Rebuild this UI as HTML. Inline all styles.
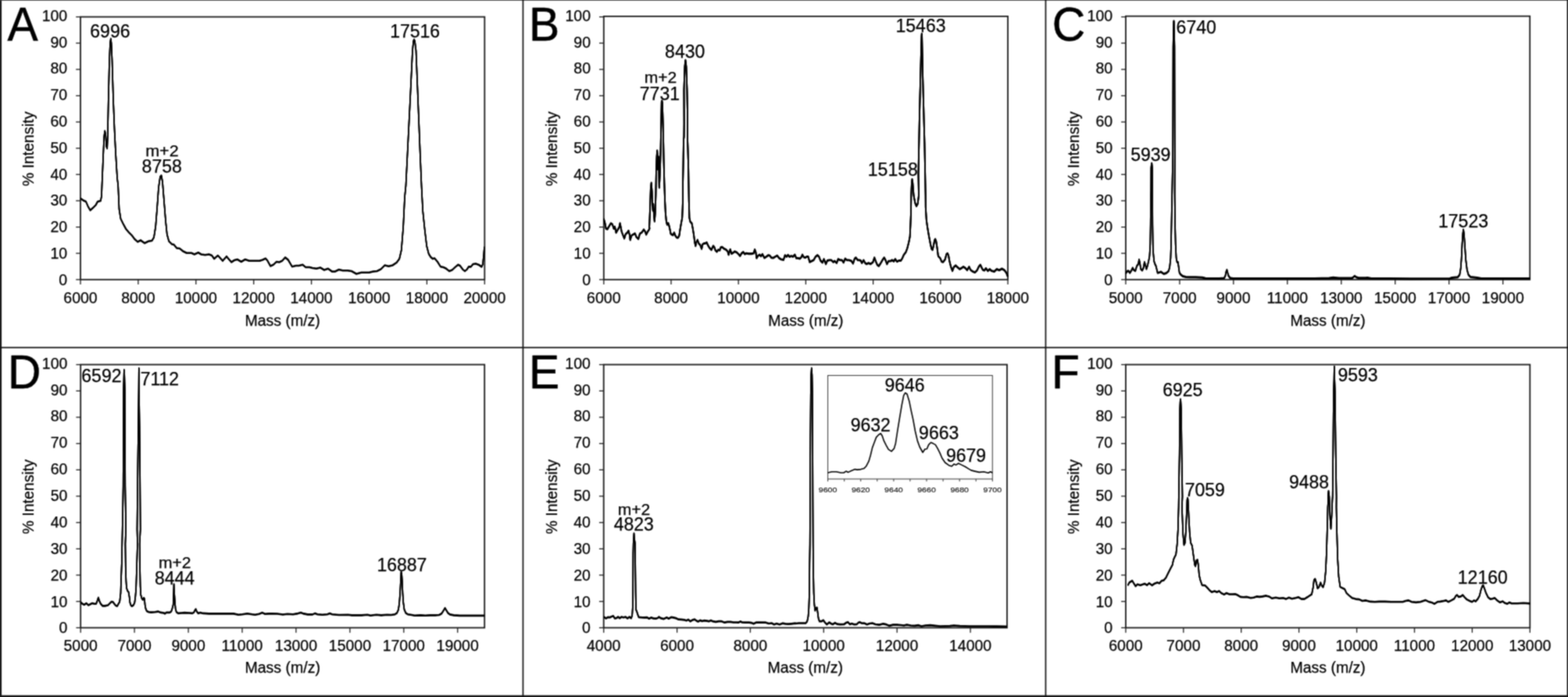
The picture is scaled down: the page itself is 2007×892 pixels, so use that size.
<!DOCTYPE html>
<html lang="en"><head><meta charset="utf-8"><title>Mass spectra</title>
<style>
html,body{margin:0;padding:0;background:#fff;}
body{width:2007px;height:892px;overflow:hidden;}
svg{display:block;font-family:"Liberation Sans",sans-serif;}
text{stroke:#000;stroke-width:0.25px;}
text.L{stroke-width:0.6px;stroke-linejoin:round;}

</style></head><body>
<svg width="2007" height="892" viewBox="0 0 2007 892">
<defs><filter id="soft" x="0" y="0" width="100%" height="100%" filterUnits="objectBoundingBox" color-interpolation-filters="sRGB"><feConvolveMatrix order="3" kernelMatrix="1 2 1 2 6 2 1 2 1" divisor="18" edgeMode="duplicate" preserveAlpha="true"/></filter></defs>
<g filter="url(#soft)">
<rect x="0" y="0" width="2007" height="892" fill="#fff"/>
<rect x="0" y="0" width="2.1" height="892" fill="#1a1a1a"/>
<rect x="0" y="0" width="2007" height="0.8" fill="#555"/>
<rect x="2005.6" y="0" width="1.4" height="892" fill="#1a1a1a"/>
<rect x="0" y="889.7" width="2007" height="2.3" fill="#1a1a1a"/>
<rect x="668.6" y="0" width="1.7" height="892" fill="#111"/>
<rect x="1337.6" y="0" width="1.7" height="892" fill="#111"/>
<rect x="0" y="443.9" width="2007" height="1.7" fill="#111"/>
<g id="panelA">
<rect x="103.0" y="21.6" width="517.3" height="336.2" fill="none" stroke="#1c1c1c" stroke-width="1.8"/>
<line x1="97.2" y1="357.8" x2="103.0" y2="357.8" stroke="#1c1c1c" stroke-width="1.3"/>
<text x="86.2" y="364.8" font-size="19.5" text-anchor="end" fill="#000" >0</text>
<line x1="97.2" y1="324.2" x2="103.0" y2="324.2" stroke="#1c1c1c" stroke-width="1.3"/>
<text x="86.2" y="331.0" font-size="19.5" text-anchor="end" fill="#000" >10</text>
<line x1="97.2" y1="290.6" x2="103.0" y2="290.6" stroke="#1c1c1c" stroke-width="1.3"/>
<text x="86.2" y="297.2" font-size="19.5" text-anchor="end" fill="#000" >20</text>
<line x1="97.2" y1="256.9" x2="103.0" y2="256.9" stroke="#1c1c1c" stroke-width="1.3"/>
<text x="86.2" y="263.4" font-size="19.5" text-anchor="end" fill="#000" >30</text>
<line x1="97.2" y1="223.3" x2="103.0" y2="223.3" stroke="#1c1c1c" stroke-width="1.3"/>
<text x="86.2" y="229.6" font-size="19.5" text-anchor="end" fill="#000" >40</text>
<line x1="97.2" y1="189.7" x2="103.0" y2="189.7" stroke="#1c1c1c" stroke-width="1.3"/>
<text x="86.2" y="195.8" font-size="19.5" text-anchor="end" fill="#000" >50</text>
<line x1="97.2" y1="156.1" x2="103.0" y2="156.1" stroke="#1c1c1c" stroke-width="1.3"/>
<text x="86.2" y="161.9" font-size="19.5" text-anchor="end" fill="#000" >60</text>
<line x1="97.2" y1="122.5" x2="103.0" y2="122.5" stroke="#1c1c1c" stroke-width="1.3"/>
<text x="86.2" y="128.1" font-size="19.5" text-anchor="end" fill="#000" >70</text>
<line x1="97.2" y1="88.8" x2="103.0" y2="88.8" stroke="#1c1c1c" stroke-width="1.3"/>
<text x="86.2" y="94.3" font-size="19.5" text-anchor="end" fill="#000" >80</text>
<line x1="97.2" y1="55.2" x2="103.0" y2="55.2" stroke="#1c1c1c" stroke-width="1.3"/>
<text x="86.2" y="60.5" font-size="19.5" text-anchor="end" fill="#000" >90</text>
<line x1="97.2" y1="21.6" x2="103.0" y2="21.6" stroke="#1c1c1c" stroke-width="1.3"/>
<text x="86.2" y="26.7" font-size="19.5" text-anchor="end" fill="#000" >100</text>
<line x1="103.0" y1="357.8" x2="103.0" y2="364.1" stroke="#1c1c1c" stroke-width="1.3"/>
<text x="103.0" y="388.2" font-size="19.5" text-anchor="middle" fill="#000" >6000</text>
<line x1="176.9" y1="357.8" x2="176.9" y2="364.1" stroke="#1c1c1c" stroke-width="1.3"/>
<text x="176.9" y="388.2" font-size="19.5" text-anchor="middle" fill="#000" >8000</text>
<line x1="250.8" y1="357.8" x2="250.8" y2="364.1" stroke="#1c1c1c" stroke-width="1.3"/>
<text x="250.8" y="388.2" font-size="19.5" text-anchor="middle" fill="#000" >10000</text>
<line x1="324.7" y1="357.8" x2="324.7" y2="364.1" stroke="#1c1c1c" stroke-width="1.3"/>
<text x="324.7" y="388.2" font-size="19.5" text-anchor="middle" fill="#000" >12000</text>
<line x1="398.6" y1="357.8" x2="398.6" y2="364.1" stroke="#1c1c1c" stroke-width="1.3"/>
<text x="398.6" y="388.2" font-size="19.5" text-anchor="middle" fill="#000" >14000</text>
<line x1="472.5" y1="357.8" x2="472.5" y2="364.1" stroke="#1c1c1c" stroke-width="1.3"/>
<text x="472.5" y="388.2" font-size="19.5" text-anchor="middle" fill="#000" >16000</text>
<line x1="546.4" y1="357.8" x2="546.4" y2="364.1" stroke="#1c1c1c" stroke-width="1.3"/>
<text x="546.4" y="388.2" font-size="19.5" text-anchor="middle" fill="#000" >18000</text>
<line x1="620.3" y1="357.8" x2="620.3" y2="364.1" stroke="#1c1c1c" stroke-width="1.3"/>
<text x="620.3" y="388.2" font-size="19.5" text-anchor="middle" fill="#000" >20000</text>
<text x="361.6" y="417.3" font-size="19.5" text-anchor="middle" fill="#000" >Mass (m/z)</text>
<text transform="translate(42.8,190.5) rotate(-90)" font-size="19.5" text-anchor="middle">% Intensity</text>
<path d="M103.0,253.8 L106.2,256.2 L110.0,258.0 L112.5,263.8 L115.5,269.2 L118.8,266.2 L122.5,262.5 L125.0,258.0 L128.8,257.0 L130.0,251.2 L130.5,237.5 L132.0,202.5 L133.2,175.0 L134.2,167.5 L135.2,172.5 L136.2,187.5 L137.2,190.0 L137.8,175.0 L138.8,127.5 L140.0,77.5 L141.0,55.0 L141.8,49.5 L142.5,55.0 L143.5,77.5 L145.0,127.5 L146.5,165.0 L148.0,195.0 L150.0,227.5 L151.2,237.5 L152.5,267.5 L154.5,280.0 L157.5,286.2 L161.2,293.0 L165.0,297.5 L168.8,301.2 L172.5,306.2 L176.2,309.5 L180.0,307.5 L185.0,311.2 L190.0,308.8 L194.5,308.0 L197.0,303.8 L199.2,290.0 L201.2,265.0 L203.0,240.0 L205.0,226.2 L206.5,224.5 L208.0,232.5 L210.0,257.5 L212.0,282.5 L213.8,300.0 L216.2,308.8 L220.0,312.5 L222.5,313.0 L226.2,317.5 L230.0,318.0 L233.8,321.2 L238.8,323.8 L245.0,323.8 L248.8,325.5 L253.8,323.2 L257.5,325.5 L262.5,326.2 L267.5,325.5 L271.2,327.0 L274.2,331.2 L278.8,327.0 L281.2,329.5 L285.0,333.8 L290.0,328.2 L292.5,331.2 L296.2,335.5 L300.0,333.0 L303.8,332.0 L308.8,335.0 L313.8,332.0 L318.8,333.8 L325.0,333.8 L332.5,333.8 L336.2,332.5 L340.0,330.8 L342.5,333.8 L346.2,340.5 L350.0,338.8 L353.8,335.0 L357.5,335.5 L361.2,333.8 L365.0,329.5 L368.8,332.5 L373.8,341.2 L378.8,340.0 L382.5,340.0 L387.5,338.8 L391.2,342.0 L396.2,342.0 L400.0,343.0 L405.0,343.8 L410.0,342.5 L415.0,345.5 L420.0,343.8 L425.0,347.5 L428.8,347.5 L433.8,345.0 L438.8,346.2 L445.0,346.2 L450.0,347.0 L456.2,350.5 L462.5,348.8 L467.5,348.8 L472.5,348.8 L477.5,347.5 L482.5,347.0 L487.5,344.5 L492.5,339.5 L497.5,340.8 L502.5,339.5 L507.5,336.2 L511.2,331.2 L513.8,320.0 L516.2,290.0 L518.0,252.5 L519.5,237.5 L522.5,177.5 L525.0,127.5 L528.0,65.0 L529.2,52.5 L530.0,50.5 L531.0,52.5 L532.5,65.0 L535.5,140.0 L538.0,202.5 L539.5,237.5 L541.2,270.0 L543.8,295.0 L546.2,315.0 L548.8,325.0 L551.2,328.8 L553.8,331.2 L556.2,330.5 L560.0,335.0 L563.8,341.2 L567.5,342.0 L571.2,343.8 L575.0,347.0 L578.8,345.5 L582.5,342.0 L586.2,338.8 L588.8,340.0 L592.5,345.0 L595.0,347.0 L597.5,345.0 L600.0,341.2 L602.6,341.5 L605.5,338.0 L609.0,337.5 L613.0,339.0 L616.5,341.5 L618.0,338.0 L619.3,325.0 L620.0,316.0" fill="none" stroke="#000" stroke-width="1.6" stroke-linejoin="round" stroke-linecap="butt" id="cA"/>
<use href="#cA" transform="translate(0,-0.50)"/>
<use href="#cA" transform="translate(0,0.50)"/>
<text x="140.9" y="47.5" font-size="23" text-anchor="middle" fill="#000" >6996</text>
<text x="531.2" y="47.8" font-size="23" text-anchor="middle" fill="#000" >17516</text>
<text x="186.2" y="199.9" font-size="19.5" text-anchor="start" fill="#000" textLength="42.5" lengthAdjust="spacingAndGlyphs">m+2</text>
<text x="207.2" y="221.0" font-size="23" text-anchor="middle" fill="#000" >8758</text>
<text class="L" transform="translate(9.6,51.5) scale(0.965,1)" font-size="60.8">A</text>
</g>
<g id="panelB">
<rect x="772.8" y="20.9" width="517.2" height="336.9" fill="none" stroke="#1c1c1c" stroke-width="1.8"/>
<line x1="767.0" y1="357.8" x2="772.8" y2="357.8" stroke="#1c1c1c" stroke-width="1.3"/>
<text x="756.0" y="364.8" font-size="19.5" text-anchor="end" fill="#000" >0</text>
<line x1="767.0" y1="324.2" x2="772.8" y2="324.2" stroke="#1c1c1c" stroke-width="1.3"/>
<text x="756.0" y="331.0" font-size="19.5" text-anchor="end" fill="#000" >10</text>
<line x1="767.0" y1="290.6" x2="772.8" y2="290.6" stroke="#1c1c1c" stroke-width="1.3"/>
<text x="756.0" y="297.2" font-size="19.5" text-anchor="end" fill="#000" >20</text>
<line x1="767.0" y1="256.9" x2="772.8" y2="256.9" stroke="#1c1c1c" stroke-width="1.3"/>
<text x="756.0" y="263.4" font-size="19.5" text-anchor="end" fill="#000" >30</text>
<line x1="767.0" y1="223.3" x2="772.8" y2="223.3" stroke="#1c1c1c" stroke-width="1.3"/>
<text x="756.0" y="229.6" font-size="19.5" text-anchor="end" fill="#000" >40</text>
<line x1="767.0" y1="189.7" x2="772.8" y2="189.7" stroke="#1c1c1c" stroke-width="1.3"/>
<text x="756.0" y="195.8" font-size="19.5" text-anchor="end" fill="#000" >50</text>
<line x1="767.0" y1="156.1" x2="772.8" y2="156.1" stroke="#1c1c1c" stroke-width="1.3"/>
<text x="756.0" y="161.9" font-size="19.5" text-anchor="end" fill="#000" >60</text>
<line x1="767.0" y1="122.5" x2="772.8" y2="122.5" stroke="#1c1c1c" stroke-width="1.3"/>
<text x="756.0" y="128.1" font-size="19.5" text-anchor="end" fill="#000" >70</text>
<line x1="767.0" y1="88.8" x2="772.8" y2="88.8" stroke="#1c1c1c" stroke-width="1.3"/>
<text x="756.0" y="94.3" font-size="19.5" text-anchor="end" fill="#000" >80</text>
<line x1="767.0" y1="55.2" x2="772.8" y2="55.2" stroke="#1c1c1c" stroke-width="1.3"/>
<text x="756.0" y="60.5" font-size="19.5" text-anchor="end" fill="#000" >90</text>
<line x1="767.0" y1="21.6" x2="772.8" y2="21.6" stroke="#1c1c1c" stroke-width="1.3"/>
<text x="756.0" y="26.7" font-size="19.5" text-anchor="end" fill="#000" >100</text>
<line x1="772.8" y1="357.8" x2="772.8" y2="364.1" stroke="#1c1c1c" stroke-width="1.3"/>
<text x="772.8" y="388.2" font-size="19.5" text-anchor="middle" fill="#000" >6000</text>
<line x1="859.0" y1="357.8" x2="859.0" y2="364.1" stroke="#1c1c1c" stroke-width="1.3"/>
<text x="859.0" y="388.2" font-size="19.5" text-anchor="middle" fill="#000" >8000</text>
<line x1="945.2" y1="357.8" x2="945.2" y2="364.1" stroke="#1c1c1c" stroke-width="1.3"/>
<text x="945.2" y="388.2" font-size="19.5" text-anchor="middle" fill="#000" >10000</text>
<line x1="1031.4" y1="357.8" x2="1031.4" y2="364.1" stroke="#1c1c1c" stroke-width="1.3"/>
<text x="1031.4" y="388.2" font-size="19.5" text-anchor="middle" fill="#000" >12000</text>
<line x1="1117.6" y1="357.8" x2="1117.6" y2="364.1" stroke="#1c1c1c" stroke-width="1.3"/>
<text x="1117.6" y="388.2" font-size="19.5" text-anchor="middle" fill="#000" >14000</text>
<line x1="1203.8" y1="357.8" x2="1203.8" y2="364.1" stroke="#1c1c1c" stroke-width="1.3"/>
<text x="1203.8" y="388.2" font-size="19.5" text-anchor="middle" fill="#000" >16000</text>
<line x1="1290.0" y1="357.8" x2="1290.0" y2="364.1" stroke="#1c1c1c" stroke-width="1.3"/>
<text x="1290.0" y="388.2" font-size="19.5" text-anchor="middle" fill="#000" >18000</text>
<text x="1031.4" y="417.3" font-size="19.5" text-anchor="middle" fill="#000" >Mass (m/z)</text>
<text transform="translate(712.6,190.5) rotate(-90)" font-size="19.5" text-anchor="middle">% Intensity</text>
<path d="M772.8,280.1 L774.4,285.8 L775.7,292.7 L777.5,293.3 L780.0,288.9 L781.9,285.8 L783.8,287.0 L785.7,292.7 L787.0,290.2 L788.6,297.7 L790.7,293.9 L792.4,291.4 L793.6,285.8 L794.5,290.2 L795.7,296.5 L797.6,301.5 L799.1,305.2 L800.8,299.6 L802.9,297.7 L804.5,295.2 L805.8,300.2 L806.7,307.1 L808.3,301.5 L810.2,300.2 L812.7,298.7 L814.6,303.4 L817.1,305.9 L819.0,299.0 L821.5,297.5 L824.0,293.7 L825.9,296.5 L827.1,300.2 L829.0,296.5 L830.9,293.7 L831.5,292.1 L831.1,291.5 L832.1,265.3 L832.9,241.1 L833.7,234.0 L834.5,245.1 L835.1,261.2 L835.7,269.3 L836.3,261.2 L836.9,273.3 L837.8,283.4 L838.6,273.3 L839.4,249.1 L840.0,216.9 L840.6,200.7 L841.2,192.6 L841.8,204.7 L842.2,216.9 L842.6,206.8 L843.0,200.7 L843.4,220.9 L843.8,240.1 L844.4,229.0 L845.0,214.8 L845.6,192.6 L846.2,160.4 L846.8,130.1 L847.3,128.9 L847.8,132.1 L848.7,160.4 L849.5,200.7 L850.3,233.0 L851.1,257.2 L851.9,273.3 L852.9,283.4 L853.9,287.5 L855.3,285.5 L856.3,288.5 L857.9,295.5 L858.5,299.0 L859.8,300.2 L861.4,300.9 L862.9,297.7 L864.4,301.5 L866.1,304.0 L867.9,304.2 L869.4,301.5 L870.5,293.9 L872.0,285.2 L873.2,278.9 L873.7,266.3 L874.1,253.8 L874.0,237.9 L874.5,212.8 L875.0,178.9 L875.5,175.1 L875.7,157.5 L875.5,115.3 L876.5,85.2 L877.4,77.0 L878.4,85.2 L879.4,115.3 L880.1,150.5 L879.9,175.1 L880.5,191.4 L881.1,212.8 L881.6,245.4 L881.8,257.5 L882.0,262.6 L882.4,278.9 L883.6,283.9 L885.5,285.8 L886.8,292.7 L888.0,300.2 L889.3,310.3 L890.3,314.7 L891.2,310.3 L892.8,307.1 L894.3,311.5 L896.2,313.4 L898.1,318.4 L899.3,312.8 L901.2,311.5 L903.1,311.3 L904.6,310.3 L906.2,314.0 L908.1,317.2 L910.6,319.7 L912.9,314.7 L914.4,316.5 L915.7,320.3 L917.5,322.2 L919.4,319.7 L921.3,320.3 L922.6,316.5 L924.4,316.3 L927.0,318.4 L929.5,319.7 L931.4,321.6 L932.6,326.0 L934.7,319.1 L936.4,324.7 L938.3,323.5 L940.5,321.8 L942.7,322.8 L945.2,325.1 L947.3,327.6 L949.3,324.1 L951.4,322.6 L953.3,325.3 L955.2,324.1 L958.3,324.7 L962.1,324.7 L964.6,324.1 L966.1,319.3 L967.4,322.8 L968.4,330.4 L970.3,327.2 L972.2,326.0 L974.0,327.9 L975.9,325.3 L978.4,330.1 L980.9,328.5 L983.5,326.6 L985.3,327.2 L987.2,329.7 L989.7,330.1 L992.3,328.5 L994.8,327.2 L997.3,330.4 L999.8,331.9 L1002.9,332.6 L1004.8,326.6 L1006.7,328.5 L1008.6,326.3 L1010.5,328.5 L1013.0,327.6 L1014.9,328.5 L1017.4,326.0 L1019.2,330.4 L1021.3,330.4 L1023.8,331.0 L1025.7,329.1 L1027.0,326.0 L1028.8,329.1 L1030.7,329.7 L1032.6,328.5 L1034.5,328.5 L1036.4,335.4 L1038.9,334.1 L1041.4,332.9 L1043.9,328.5 L1046.4,326.6 L1048.3,328.5 L1050.2,333.5 L1052.7,336.0 L1054.6,331.6 L1057.1,337.9 L1059.0,333.5 L1061.5,332.9 L1064.0,332.9 L1066.5,335.4 L1068.4,334.1 L1070.9,336.6 L1072.8,331.6 L1075.3,332.9 L1077.8,332.9 L1079.7,336.0 L1081.8,331.0 L1084.1,332.9 L1086.6,332.9 L1089.7,333.9 L1091.9,337.3 L1093.9,331.0 L1095.4,329.7 L1097.9,332.9 L1099.8,332.9 L1101.7,333.5 L1103.2,336.6 L1105.4,332.9 L1107.3,336.6 L1109.2,337.9 L1111.7,336.6 L1114.2,337.9 L1117.4,335.4 L1119.2,329.7 L1121.1,334.8 L1123.0,339.2 L1124.9,340.4 L1127.4,336.6 L1129.9,332.2 L1131.8,329.7 L1133.7,333.5 L1135.3,337.9 L1137.4,334.1 L1140.0,334.1 L1141.8,332.9 L1144.1,334.4 L1145.9,331.6 L1148.1,334.8 L1150.6,333.5 L1153.1,333.5 L1155.0,330.4 L1156.9,326.0 L1159.4,322.8 L1161.3,317.8 L1163.2,310.3 L1164.7,302.7 L1165.4,287.7 L1166.0,272.6 L1166.3,250.0 L1167.0,233.7 L1167.5,229.5 L1168.2,233.7 L1169.5,250.0 L1171.4,260.0 L1173.0,263.8 L1174.7,260.7 L1176.0,250.0 L1175.5,223.5 L1177.1,142.1 L1178.8,74.3 L1179.6,45.8 L1179.8,43.1 L1180.1,45.8 L1181.2,101.4 L1183.4,182.8 L1184.7,250.6 L1184.8,265.1 L1185.8,281.4 L1187.0,290.2 L1188.9,301.5 L1190.8,311.5 L1192.3,318.4 L1193.6,319.7 L1194.8,315.3 L1196.1,307.8 L1197.1,305.9 L1198.3,309.0 L1199.6,317.8 L1200.9,327.9 L1203.4,330.4 L1205.3,334.8 L1207.1,335.4 L1209.6,332.2 L1211.5,325.3 L1212.8,324.3 L1214.0,326.6 L1215.3,334.1 L1217.2,341.7 L1219.1,346.7 L1220.9,341.7 L1223.2,339.8 L1225.3,341.7 L1228.5,344.4 L1231.0,342.9 L1232.9,341.4 L1235.4,342.9 L1237.9,345.7 L1240.4,341.4 L1242.3,345.4 L1244.8,347.3 L1247.9,348.6 L1250.5,346.1 L1253.0,341.0 L1254.9,338.9 L1256.4,342.3 L1258.0,345.4 L1260.0,346.1 L1261.9,343.4 L1264.4,346.7 L1266.8,344.5 L1269.3,346.7 L1272.6,347.5 L1275.8,344.5 L1279.1,345.8 L1282.4,343.9 L1285.7,345.8 L1288.1,349.1 L1289.9,354.0" fill="none" stroke="#000" stroke-width="1.8" stroke-linejoin="round" stroke-linecap="butt" id="cB"/>
<use href="#cB" transform="translate(0,-0.55)"/>
<use href="#cB" transform="translate(0,0.55)"/>
<text x="876.7" y="74.1" font-size="23" text-anchor="middle" fill="#000" >8430</text>
<text x="824.7" y="106.4" font-size="19.5" text-anchor="start" fill="#000" textLength="41.6" lengthAdjust="spacingAndGlyphs">m+2</text>
<text x="844.4" y="128.4" font-size="23" text-anchor="middle" fill="#000" >7731</text>
<text x="1178.5" y="40.8" font-size="23" text-anchor="middle" fill="#000" >15463</text>
<text x="1142.8" y="224.5" font-size="23" text-anchor="middle" fill="#000" >15158</text>
<text class="L" transform="translate(676.9,51.5) scale(0.965,1)" font-size="60.8">B</text>
</g>
<g id="panelC">
<rect x="1440.9" y="20.7" width="517.3" height="337.1" fill="none" stroke="#1c1c1c" stroke-width="1.8"/>
<line x1="1435.1" y1="357.8" x2="1440.9" y2="357.8" stroke="#1c1c1c" stroke-width="1.3"/>
<text x="1424.1" y="364.8" font-size="19.5" text-anchor="end" fill="#000" >0</text>
<line x1="1435.1" y1="324.2" x2="1440.9" y2="324.2" stroke="#1c1c1c" stroke-width="1.3"/>
<text x="1424.1" y="331.0" font-size="19.5" text-anchor="end" fill="#000" >10</text>
<line x1="1435.1" y1="290.6" x2="1440.9" y2="290.6" stroke="#1c1c1c" stroke-width="1.3"/>
<text x="1424.1" y="297.2" font-size="19.5" text-anchor="end" fill="#000" >20</text>
<line x1="1435.1" y1="256.9" x2="1440.9" y2="256.9" stroke="#1c1c1c" stroke-width="1.3"/>
<text x="1424.1" y="263.4" font-size="19.5" text-anchor="end" fill="#000" >30</text>
<line x1="1435.1" y1="223.3" x2="1440.9" y2="223.3" stroke="#1c1c1c" stroke-width="1.3"/>
<text x="1424.1" y="229.6" font-size="19.5" text-anchor="end" fill="#000" >40</text>
<line x1="1435.1" y1="189.7" x2="1440.9" y2="189.7" stroke="#1c1c1c" stroke-width="1.3"/>
<text x="1424.1" y="195.8" font-size="19.5" text-anchor="end" fill="#000" >50</text>
<line x1="1435.1" y1="156.1" x2="1440.9" y2="156.1" stroke="#1c1c1c" stroke-width="1.3"/>
<text x="1424.1" y="161.9" font-size="19.5" text-anchor="end" fill="#000" >60</text>
<line x1="1435.1" y1="122.5" x2="1440.9" y2="122.5" stroke="#1c1c1c" stroke-width="1.3"/>
<text x="1424.1" y="128.1" font-size="19.5" text-anchor="end" fill="#000" >70</text>
<line x1="1435.1" y1="88.8" x2="1440.9" y2="88.8" stroke="#1c1c1c" stroke-width="1.3"/>
<text x="1424.1" y="94.3" font-size="19.5" text-anchor="end" fill="#000" >80</text>
<line x1="1435.1" y1="55.2" x2="1440.9" y2="55.2" stroke="#1c1c1c" stroke-width="1.3"/>
<text x="1424.1" y="60.5" font-size="19.5" text-anchor="end" fill="#000" >90</text>
<line x1="1435.1" y1="21.6" x2="1440.9" y2="21.6" stroke="#1c1c1c" stroke-width="1.3"/>
<text x="1424.1" y="26.7" font-size="19.5" text-anchor="end" fill="#000" >100</text>
<line x1="1440.9" y1="357.8" x2="1440.9" y2="364.1" stroke="#1c1c1c" stroke-width="1.3"/>
<text x="1440.9" y="388.2" font-size="19.5" text-anchor="middle" fill="#000" >5000</text>
<line x1="1509.9" y1="357.8" x2="1509.9" y2="364.1" stroke="#1c1c1c" stroke-width="1.3"/>
<text x="1509.9" y="388.2" font-size="19.5" text-anchor="middle" fill="#000" >7000</text>
<line x1="1578.8" y1="357.8" x2="1578.8" y2="364.1" stroke="#1c1c1c" stroke-width="1.3"/>
<text x="1578.8" y="388.2" font-size="19.5" text-anchor="middle" fill="#000" >9000</text>
<line x1="1647.8" y1="357.8" x2="1647.8" y2="364.1" stroke="#1c1c1c" stroke-width="1.3"/>
<text x="1647.8" y="388.2" font-size="19.5" text-anchor="middle" fill="#000" >11000</text>
<line x1="1716.8" y1="357.8" x2="1716.8" y2="364.1" stroke="#1c1c1c" stroke-width="1.3"/>
<text x="1716.8" y="388.2" font-size="19.5" text-anchor="middle" fill="#000" >13000</text>
<line x1="1785.8" y1="357.8" x2="1785.8" y2="364.1" stroke="#1c1c1c" stroke-width="1.3"/>
<text x="1785.8" y="388.2" font-size="19.5" text-anchor="middle" fill="#000" >15000</text>
<line x1="1854.7" y1="357.8" x2="1854.7" y2="364.1" stroke="#1c1c1c" stroke-width="1.3"/>
<text x="1854.7" y="388.2" font-size="19.5" text-anchor="middle" fill="#000" >17000</text>
<line x1="1923.7" y1="357.8" x2="1923.7" y2="364.1" stroke="#1c1c1c" stroke-width="1.3"/>
<text x="1923.7" y="388.2" font-size="19.5" text-anchor="middle" fill="#000" >19000</text>
<text x="1699.6" y="417.3" font-size="19.5" text-anchor="middle" fill="#000" >Mass (m/z)</text>
<text transform="translate(1380.7,190.5) rotate(-90)" font-size="19.5" text-anchor="middle">% Intensity</text>
<path d="M1441.0,349.8 L1442.5,347.3 L1444.4,346.7 L1446.3,349.2 L1448.2,346.1 L1449.8,342.9 L1451.1,345.4 L1453.2,346.7 L1455.1,340.4 L1457.0,337.9 L1458.0,332.2 L1459.1,336.6 L1460.1,344.2 L1462.0,346.1 L1463.6,342.9 L1464.9,335.4 L1466.1,339.2 L1467.4,344.2 L1468.7,340.4 L1470.2,334.1 L1471.4,327.9 L1472.3,312.8 L1472.7,287.7 L1473.0,250.0 L1473.2,245.0 L1473.4,215.0 L1474.0,209.0 L1474.3,209.0 L1474.9,215.0 L1475.1,245.0 L1475.1,250.0 L1475.3,287.7 L1475.8,319.1 L1477.1,334.1 L1478.3,337.9 L1479.6,340.4 L1480.8,345.4 L1481.7,349.2 L1484.0,348.6 L1485.9,347.9 L1487.7,349.2 L1489.6,350.5 L1492.1,349.8 L1494.0,348.6 L1495.9,346.7 L1497.2,341.7 L1498.4,330.4 L1499.0,312.8 L1499.7,275.1 L1500.2,250.0 L1501.2,200.0 L1501.6,60.0 L1502.3,27.0 L1502.7,27.0 L1503.4,60.0 L1503.7,200.0 L1503.6,250.0 L1504.1,287.7 L1504.7,312.8 L1505.6,330.4 L1506.6,335.4 L1507.8,335.4 L1508.8,342.9 L1509.7,349.2 L1511.6,351.7 L1514.1,353.6 L1517.9,354.5 L1522.9,354.8 L1530.4,354.8 L1539.2,355.2 L1543.0,356.2 L1560.6,356.4 L1566.8,356.1 L1568.4,353.0 L1569.4,347.9 L1570.4,345.4 L1571.4,349.2 L1572.5,353.0 L1574.4,355.7 L1578.1,356.4 L1598.2,356.5 L1635.9,356.5 L1679.9,356.5 L1682.5,356.5 L1701.3,356.1 L1706.4,355.2 L1713.9,356.1 L1730.2,356.1 L1732.1,354.8 L1734.0,353.2 L1735.9,354.8 L1739.0,355.7 L1747.8,355.7 L1750.3,355.5 L1755.3,356.5 L1805.6,356.7 L1855.8,356.5 L1858.3,355.5 L1865.8,354.8 L1868.3,351.7 L1869.6,344.2 L1870.6,331.6 L1871.5,312.8 L1872.4,299.0 L1873.1,293.9 L1873.9,299.0 L1874.9,312.8 L1876.1,331.6 L1877.8,345.4 L1879.6,351.7 L1882.2,354.5 L1890.9,355.5 L1896.0,356.5 L1930.0,356.6 L1958.2,356.6" fill="none" stroke="#000" stroke-width="1.6" stroke-linejoin="round" stroke-linecap="butt" id="cC"/>
<use href="#cC" transform="translate(0,-0.70)"/>
<use href="#cC" transform="translate(0,0.70)"/>
<text x="1531.2" y="43.2" font-size="23" text-anchor="middle" fill="#000" >6740</text>
<text x="1472.8" y="206.0" font-size="23" text-anchor="middle" fill="#000" >5939</text>
<text x="1873.0" y="290.7" font-size="23" text-anchor="middle" fill="#000" >17523</text>
<text class="L" transform="translate(1346.7,51.5) scale(0.965,1)" font-size="60.8">C</text>
</g>
<g id="panelD">
<rect x="103.2" y="466.6" width="517.0" height="336.8" fill="none" stroke="#1c1c1c" stroke-width="1.8"/>
<line x1="97.4" y1="803.4" x2="103.2" y2="803.4" stroke="#1c1c1c" stroke-width="1.3"/>
<text x="86.4" y="810.4" font-size="19.5" text-anchor="end" fill="#000" >0</text>
<line x1="97.4" y1="769.7" x2="103.2" y2="769.7" stroke="#1c1c1c" stroke-width="1.3"/>
<text x="86.4" y="776.5" font-size="19.5" text-anchor="end" fill="#000" >10</text>
<line x1="97.4" y1="736.0" x2="103.2" y2="736.0" stroke="#1c1c1c" stroke-width="1.3"/>
<text x="86.4" y="742.7" font-size="19.5" text-anchor="end" fill="#000" >20</text>
<line x1="97.4" y1="702.4" x2="103.2" y2="702.4" stroke="#1c1c1c" stroke-width="1.3"/>
<text x="86.4" y="708.8" font-size="19.5" text-anchor="end" fill="#000" >30</text>
<line x1="97.4" y1="668.7" x2="103.2" y2="668.7" stroke="#1c1c1c" stroke-width="1.3"/>
<text x="86.4" y="674.9" font-size="19.5" text-anchor="end" fill="#000" >40</text>
<line x1="97.4" y1="635.0" x2="103.2" y2="635.0" stroke="#1c1c1c" stroke-width="1.3"/>
<text x="86.4" y="641.0" font-size="19.5" text-anchor="end" fill="#000" >50</text>
<line x1="97.4" y1="601.3" x2="103.2" y2="601.3" stroke="#1c1c1c" stroke-width="1.3"/>
<text x="86.4" y="607.2" font-size="19.5" text-anchor="end" fill="#000" >60</text>
<line x1="97.4" y1="567.6" x2="103.2" y2="567.6" stroke="#1c1c1c" stroke-width="1.3"/>
<text x="86.4" y="573.3" font-size="19.5" text-anchor="end" fill="#000" >70</text>
<line x1="97.4" y1="534.0" x2="103.2" y2="534.0" stroke="#1c1c1c" stroke-width="1.3"/>
<text x="86.4" y="539.4" font-size="19.5" text-anchor="end" fill="#000" >80</text>
<line x1="97.4" y1="500.3" x2="103.2" y2="500.3" stroke="#1c1c1c" stroke-width="1.3"/>
<text x="86.4" y="505.6" font-size="19.5" text-anchor="end" fill="#000" >90</text>
<line x1="97.4" y1="466.6" x2="103.2" y2="466.6" stroke="#1c1c1c" stroke-width="1.3"/>
<text x="86.4" y="471.7" font-size="19.5" text-anchor="end" fill="#000" >100</text>
<line x1="103.2" y1="803.4" x2="103.2" y2="809.7" stroke="#1c1c1c" stroke-width="1.3"/>
<text x="103.2" y="832.7" font-size="19.5" text-anchor="middle" fill="#000" >5000</text>
<line x1="172.1" y1="803.4" x2="172.1" y2="809.7" stroke="#1c1c1c" stroke-width="1.3"/>
<text x="172.1" y="832.7" font-size="19.5" text-anchor="middle" fill="#000" >7000</text>
<line x1="241.1" y1="803.4" x2="241.1" y2="809.7" stroke="#1c1c1c" stroke-width="1.3"/>
<text x="241.1" y="832.7" font-size="19.5" text-anchor="middle" fill="#000" >9000</text>
<line x1="310.0" y1="803.4" x2="310.0" y2="809.7" stroke="#1c1c1c" stroke-width="1.3"/>
<text x="310.0" y="832.7" font-size="19.5" text-anchor="middle" fill="#000" >11000</text>
<line x1="378.9" y1="803.4" x2="378.9" y2="809.7" stroke="#1c1c1c" stroke-width="1.3"/>
<text x="378.9" y="832.7" font-size="19.5" text-anchor="middle" fill="#000" >13000</text>
<line x1="447.9" y1="803.4" x2="447.9" y2="809.7" stroke="#1c1c1c" stroke-width="1.3"/>
<text x="447.9" y="832.7" font-size="19.5" text-anchor="middle" fill="#000" >15000</text>
<line x1="516.8" y1="803.4" x2="516.8" y2="809.7" stroke="#1c1c1c" stroke-width="1.3"/>
<text x="516.8" y="832.7" font-size="19.5" text-anchor="middle" fill="#000" >17000</text>
<line x1="585.7" y1="803.4" x2="585.7" y2="809.7" stroke="#1c1c1c" stroke-width="1.3"/>
<text x="585.7" y="832.7" font-size="19.5" text-anchor="middle" fill="#000" >19000</text>
<text x="361.7" y="861.4" font-size="19.5" text-anchor="middle" fill="#000" >Mass (m/z)</text>
<text transform="translate(43.0,635.8) rotate(-90)" font-size="19.5" text-anchor="middle">% Intensity</text>
<path d="M103.3,770.7 L105.5,772.8 L108.0,773.9 L110.6,772.0 L113.1,774.5 L115.6,773.2 L118.1,772.0 L120.6,772.8 L123.1,772.6 L124.6,768.8 L125.9,764.8 L127.1,768.8 L128.8,772.6 L131.3,775.4 L134.4,775.4 L138.2,774.5 L140.7,772.0 L142.6,770.1 L144.5,770.3 L146.3,772.8 L148.2,775.1 L150.1,775.7 L151.4,773.2 L153.2,770.1 L154.5,758.8 L155.1,739.9 L155.8,721.1 L156.3,696.0 L156.7,677.5 L157.7,622.2 L158.2,497.5 L158.8,475.4 L158.9,473.2 L159.1,475.4 L159.8,497.5 L160.3,622.2 L161.1,677.5 L160.4,696.0 L160.8,727.4 L161.4,743.7 L162.0,752.5 L163.3,756.3 L164.5,757.5 L165.6,763.8 L166.4,771.3 L167.7,775.1 L168.9,775.7 L170.8,774.5 L172.3,771.3 L173.3,763.8 L174.2,752.5 L174.8,733.7 L175.6,708.6 L176.0,696.0 L175.5,677.5 L176.4,594.5 L177.1,544.6 L177.6,497.5 L177.8,471.2 L177.9,497.5 L178.6,544.6 L179.1,594.5 L179.7,677.5 L178.7,696.0 L179.0,721.1 L179.6,750.0 L180.2,761.3 L181.5,765.7 L182.8,767.6 L184.0,765.1 L184.9,766.3 L185.6,773.9 L186.5,778.9 L187.8,782.0 L190.3,783.3 L193.4,783.6 L198.5,783.3 L202.2,782.6 L206.0,783.9 L209.8,784.5 L211.0,785.4 L212.9,783.9 L217.3,783.9 L219.2,782.6 L220.4,778.9 L221.7,773.9 L222.3,758.8 L222.6,747.5 L223.1,758.8 L223.8,768.8 L224.6,778.9 L225.8,783.3 L228.0,784.9 L232.4,784.5 L236.1,784.1 L242.4,784.5 L246.2,784.9 L248.1,783.9 L249.3,781.4 L250.6,779.5 L251.8,782.6 L253.7,784.9 L256.2,783.9 L260.0,784.9 L267.5,785.4 L280.1,785.4 L292.6,785.4 L298.9,785.4 L305.2,786.7 L310.2,786.2 L316.5,785.2 L322.8,786.2 L326.5,786.7 L331.6,785.8 L335.9,784.1 L339.1,785.8 L344.1,785.4 L348.0,785.2 L355.0,785.5 L362.0,786.5 L368.0,785.8 L375.0,786.2 L380.0,785.4 L385.0,783.9 L388.8,785.4 L393.8,786.4 L400.1,786.4 L403.3,784.9 L406.4,786.2 L412.7,786.7 L418.9,786.2 L422.1,784.9 L425.2,786.2 L434.0,787.0 L445.3,786.7 L450.3,787.4 L462.9,787.4 L470.4,786.7 L474.2,787.7 L481.7,786.7 L488.0,787.4 L495.5,786.7 L500.6,787.0 L505.6,786.2 L508.1,784.5 L510.0,780.1 L511.2,771.3 L512.1,758.8 L512.9,743.7 L513.5,731.8 L514.1,733.7 L514.8,743.7 L515.4,758.8 L516.3,771.3 L517.5,780.1 L519.4,784.5 L521.9,786.2 L525.7,786.7 L530.7,787.7 L538.2,787.4 L544.5,787.7 L550.8,787.4 L557.1,787.4 L562.1,787.0 L565.2,785.2 L567.7,781.4 L569.6,778.2 L571.5,781.4 L573.4,784.5 L575.9,786.4 L580.9,787.4 L588.5,787.9 L601.0,787.9 L620.1,787.9" fill="none" stroke="#000" stroke-width="1.6" stroke-linejoin="round" stroke-linecap="butt" id="cD"/>
<use href="#cD" transform="translate(0,-0.50)"/>
<use href="#cD" transform="translate(0,0.50)"/>
<text x="129.9" y="489.2" font-size="23" text-anchor="middle" fill="#000" >6592</text>
<text x="204.4" y="493.1" font-size="23" text-anchor="middle" fill="#000" >7112</text>
<text x="202.9" y="727.3" font-size="19.5" text-anchor="start" fill="#000" textLength="41.6" lengthAdjust="spacingAndGlyphs">m+2</text>
<text x="223.6" y="747.7" font-size="23" text-anchor="middle" fill="#000" >8444</text>
<text x="514.4" y="731.0" font-size="23" text-anchor="middle" fill="#000" >16887</text>
<text class="L" transform="translate(9.9,497.0) scale(0.965,1)" font-size="60.8">D</text>
</g>
<g id="panelE">
<rect x="772.7" y="466.6" width="516.3" height="336.8" fill="none" stroke="#1c1c1c" stroke-width="1.8"/>
<line x1="766.9" y1="803.4" x2="772.7" y2="803.4" stroke="#1c1c1c" stroke-width="1.3"/>
<text x="755.9" y="810.4" font-size="19.5" text-anchor="end" fill="#000" >0</text>
<line x1="766.9" y1="769.7" x2="772.7" y2="769.7" stroke="#1c1c1c" stroke-width="1.3"/>
<text x="755.9" y="776.5" font-size="19.5" text-anchor="end" fill="#000" >10</text>
<line x1="766.9" y1="736.0" x2="772.7" y2="736.0" stroke="#1c1c1c" stroke-width="1.3"/>
<text x="755.9" y="742.7" font-size="19.5" text-anchor="end" fill="#000" >20</text>
<line x1="766.9" y1="702.4" x2="772.7" y2="702.4" stroke="#1c1c1c" stroke-width="1.3"/>
<text x="755.9" y="708.8" font-size="19.5" text-anchor="end" fill="#000" >30</text>
<line x1="766.9" y1="668.7" x2="772.7" y2="668.7" stroke="#1c1c1c" stroke-width="1.3"/>
<text x="755.9" y="674.9" font-size="19.5" text-anchor="end" fill="#000" >40</text>
<line x1="766.9" y1="635.0" x2="772.7" y2="635.0" stroke="#1c1c1c" stroke-width="1.3"/>
<text x="755.9" y="641.0" font-size="19.5" text-anchor="end" fill="#000" >50</text>
<line x1="766.9" y1="601.3" x2="772.7" y2="601.3" stroke="#1c1c1c" stroke-width="1.3"/>
<text x="755.9" y="607.2" font-size="19.5" text-anchor="end" fill="#000" >60</text>
<line x1="766.9" y1="567.6" x2="772.7" y2="567.6" stroke="#1c1c1c" stroke-width="1.3"/>
<text x="755.9" y="573.3" font-size="19.5" text-anchor="end" fill="#000" >70</text>
<line x1="766.9" y1="534.0" x2="772.7" y2="534.0" stroke="#1c1c1c" stroke-width="1.3"/>
<text x="755.9" y="539.4" font-size="19.5" text-anchor="end" fill="#000" >80</text>
<line x1="766.9" y1="500.3" x2="772.7" y2="500.3" stroke="#1c1c1c" stroke-width="1.3"/>
<text x="755.9" y="505.6" font-size="19.5" text-anchor="end" fill="#000" >90</text>
<line x1="766.9" y1="466.6" x2="772.7" y2="466.6" stroke="#1c1c1c" stroke-width="1.3"/>
<text x="755.9" y="471.7" font-size="19.5" text-anchor="end" fill="#000" >100</text>
<line x1="772.7" y1="803.4" x2="772.7" y2="809.7" stroke="#1c1c1c" stroke-width="1.3"/>
<text x="772.7" y="832.7" font-size="19.5" text-anchor="middle" fill="#000" >4000</text>
<line x1="866.6" y1="803.4" x2="866.6" y2="809.7" stroke="#1c1c1c" stroke-width="1.3"/>
<text x="866.6" y="832.7" font-size="19.5" text-anchor="middle" fill="#000" >6000</text>
<line x1="960.4" y1="803.4" x2="960.4" y2="809.7" stroke="#1c1c1c" stroke-width="1.3"/>
<text x="960.4" y="832.7" font-size="19.5" text-anchor="middle" fill="#000" >8000</text>
<line x1="1054.3" y1="803.4" x2="1054.3" y2="809.7" stroke="#1c1c1c" stroke-width="1.3"/>
<text x="1054.3" y="832.7" font-size="19.5" text-anchor="middle" fill="#000" >10000</text>
<line x1="1148.2" y1="803.4" x2="1148.2" y2="809.7" stroke="#1c1c1c" stroke-width="1.3"/>
<text x="1148.2" y="832.7" font-size="19.5" text-anchor="middle" fill="#000" >12000</text>
<line x1="1242.1" y1="803.4" x2="1242.1" y2="809.7" stroke="#1c1c1c" stroke-width="1.3"/>
<text x="1242.1" y="832.7" font-size="19.5" text-anchor="middle" fill="#000" >14000</text>
<text x="1030.8" y="861.4" font-size="19.5" text-anchor="middle" fill="#000" >Mass (m/z)</text>
<text transform="translate(712.5,635.8) rotate(-90)" font-size="19.5" text-anchor="middle">% Intensity</text>
<path d="M773.0,789.5 L775.5,791.4 L778.0,789.9 L780.6,790.2 L782.4,789.2 L785.0,788.3 L786.8,791.4 L789.3,790.8 L791.2,789.5 L793.1,791.2 L795.6,789.5 L798.1,790.2 L800.6,789.5 L803.2,791.4 L805.7,789.5 L807.9,791.2 L809.2,787.7 L809.8,777.6 L810.2,746.2 L810.4,708.6 L810.7,696.0 L811.0,690.0 L811.5,682.5 L812.0,690.0 L813.0,696.0 L813.2,721.1 L813.6,758.8 L814.0,780.1 L815.1,782.6 L816.3,786.4 L817.6,789.9 L820.7,790.2 L824.5,790.4 L828.3,790.2 L830.8,791.7 L833.3,790.4 L836.4,791.4 L839.6,791.7 L842.1,790.8 L843.3,789.5 L845.9,791.2 L849.6,792.1 L853.4,790.2 L855.9,791.7 L859.0,789.9 L862.2,790.4 L865.9,791.4 L868.5,792.7 L872.2,792.9 L876.0,793.3 L878.5,794.2 L881.0,792.9 L883.5,795.2 L886.7,793.3 L889.2,792.7 L891.7,794.6 L893.6,795.4 L896.1,793.9 L898.6,794.9 L901.1,794.2 L904.9,794.6 L907.4,795.2 L909.9,793.9 L912.4,795.2 L916.2,795.8 L919.9,795.2 L923.7,795.2 L927.5,796.7 L931.2,795.8 L935.0,795.8 L938.8,796.5 L942.5,796.5 L945.0,796.7 L947.6,795.4 L950.1,796.5 L953.8,796.7 L958.9,796.7 L962.0,797.1 L964.5,798.3 L967.6,796.7 L971.4,796.5 L976.4,796.7 L980.2,796.7 L984.0,798.0 L987.7,797.5 L990.9,799.2 L994.0,798.0 L997.8,799.2 L1001.6,797.7 L1005.3,798.3 L1009.1,798.7 L1012.9,798.3 L1018.0,797.7 L1018.0,798.0 L1022.5,797.5 L1027.6,797.5 L1031.3,797.5 L1033.2,795.2 L1034.5,788.9 L1035.3,778.9 L1036.0,758.8 L1036.3,721.1 L1036.7,696.0 L1037.0,640.0 L1037.3,560.0 L1037.8,500.0 L1038.2,480.0 L1038.8,471.2 L1039.4,480.0 L1039.8,500.0 L1040.1,560.0 L1040.4,640.0 L1040.7,696.0 L1041.1,733.7 L1041.6,758.8 L1042.4,773.9 L1043.3,781.4 L1044.5,778.2 L1045.8,777.6 L1046.6,783.9 L1047.6,791.4 L1048.9,795.2 L1051.4,795.2 L1053.9,793.7 L1055.8,796.5 L1058.3,799.2 L1061.5,796.5 L1064.0,798.3 L1065.9,799.0 L1069.0,797.1 L1071.5,798.7 L1075.3,799.2 L1080.3,799.0 L1083.4,796.7 L1085.3,796.2 L1087.8,799.0 L1090.3,798.0 L1093.5,799.2 L1096.6,799.0 L1098.9,796.7 L1100.4,796.2 L1102.9,797.5 L1106.7,797.7 L1109.8,799.2 L1112.9,798.0 L1116.7,797.5 L1120.5,799.0 L1125.5,799.6 L1130.5,798.3 L1134.3,799.2 L1138.1,800.8 L1143.1,799.6 L1148.1,799.6 L1153.1,800.0 L1156.9,800.5 L1160.7,799.6 L1165.7,800.5 L1170.7,800.8 L1175.7,800.2 L1179.5,801.5 L1184.5,800.5 L1190.8,800.2 L1197.1,800.8 L1203.3,801.5 L1215.9,801.2 L1220.9,800.5 L1228.5,801.2 L1241.0,801.5 L1253.6,801.5 L1265.0,801.5 L1275.0,801.6 L1288.8,801.8" fill="none" stroke="#000" stroke-width="1.6" stroke-linejoin="round" stroke-linecap="butt" id="cE"/>
<use href="#cE" transform="translate(0,-0.55)"/>
<use href="#cE" transform="translate(0,0.55)"/>
<text x="790.8" y="658.7" font-size="19.5" text-anchor="start" fill="#000" textLength="41.5" lengthAdjust="spacingAndGlyphs">m+2</text>
<text x="811.3" y="679.4" font-size="23" text-anchor="middle" fill="#000" >4823</text>
<text class="L" transform="translate(677.1,497.0) scale(0.965,1)" font-size="60.8">E</text>
<rect x="1059.6" y="480.5" width="210.7" height="132.5" fill="#fff" stroke="#333" stroke-width="1"/>
<line x1="1059.6" y1="613.0" x2="1059.6" y2="616.2" stroke="#333" stroke-width="1"/>
<line x1="1080.7" y1="613.0" x2="1080.7" y2="616.2" stroke="#333" stroke-width="1"/>
<line x1="1101.7" y1="613.0" x2="1101.7" y2="616.2" stroke="#333" stroke-width="1"/>
<line x1="1122.8" y1="613.0" x2="1122.8" y2="616.2" stroke="#333" stroke-width="1"/>
<line x1="1143.9" y1="613.0" x2="1143.9" y2="616.2" stroke="#333" stroke-width="1"/>
<line x1="1164.9" y1="613.0" x2="1164.9" y2="616.2" stroke="#333" stroke-width="1"/>
<line x1="1186.0" y1="613.0" x2="1186.0" y2="616.2" stroke="#333" stroke-width="1"/>
<line x1="1207.1" y1="613.0" x2="1207.1" y2="616.2" stroke="#333" stroke-width="1"/>
<line x1="1228.2" y1="613.0" x2="1228.2" y2="616.2" stroke="#333" stroke-width="1"/>
<line x1="1249.2" y1="613.0" x2="1249.2" y2="616.2" stroke="#333" stroke-width="1"/>
<line x1="1270.3" y1="613.0" x2="1270.3" y2="616.2" stroke="#333" stroke-width="1"/>
<text x="1047.8" y="630.1" font-size="9.6" text-anchor="start" fill="#111" textLength="23.6" lengthAdjust="spacingAndGlyphs" style="stroke-width:0.15px">9600</text>
<text x="1089.9" y="630.1" font-size="9.6" text-anchor="start" fill="#111" textLength="23.6" lengthAdjust="spacingAndGlyphs" style="stroke-width:0.15px">9620</text>
<text x="1132.1" y="630.1" font-size="9.6" text-anchor="start" fill="#111" textLength="23.6" lengthAdjust="spacingAndGlyphs" style="stroke-width:0.15px">9640</text>
<text x="1174.2" y="630.1" font-size="9.6" text-anchor="start" fill="#111" textLength="23.6" lengthAdjust="spacingAndGlyphs" style="stroke-width:0.15px">9660</text>
<text x="1216.4" y="630.1" font-size="9.6" text-anchor="start" fill="#111" textLength="23.6" lengthAdjust="spacingAndGlyphs" style="stroke-width:0.15px">9680</text>
<text x="1258.5" y="630.1" font-size="9.6" text-anchor="start" fill="#111" textLength="23.6" lengthAdjust="spacingAndGlyphs" style="stroke-width:0.15px">9700</text>
<path d="M1059.6,605.0 L1064.8,603.8 L1070.5,603.8 L1076.2,605.0 L1080.0,605.0 L1082.9,603.1 L1085.7,604.4 L1089.6,602.5 L1094.3,600.6 L1097.2,601.1 L1102.0,600.6 L1105.8,599.6 L1108.6,596.8 L1112.1,590.1 L1114.3,582.5 L1116.6,572.9 L1119.1,566.3 L1121.6,559.6 L1124.8,556.2 L1127.3,554.8 L1129.2,557.7 L1131.5,564.4 L1134.4,570.1 L1137.2,575.2 L1141.0,577.7 L1144.5,573.9 L1146.4,567.2 L1148.7,552.0 L1151.5,534.8 L1154.4,517.7 L1156.7,506.2 L1158.6,502.8 L1161.0,504.3 L1163.9,513.8 L1166.2,525.3 L1168.7,536.7 L1171.5,552.0 L1174.4,564.4 L1177.2,572.0 L1181.1,579.0 L1183.9,574.8 L1186.4,574.5 L1188.7,569.1 L1191.5,566.3 L1194.4,567.6 L1197.3,569.1 L1200.1,573.9 L1203.0,579.6 L1205.8,586.3 L1209.7,592.0 L1214.4,595.4 L1218.2,596.8 L1221.1,593.9 L1223.9,594.9 L1226.8,593.0 L1230.6,594.9 L1235.4,597.3 L1239.2,599.6 L1243.0,601.9 L1247.8,603.1 L1253.5,604.4 L1259.2,603.8 L1264.9,605.3 L1267.8,603.8 L1270.3,605.0" fill="none" stroke="#000" stroke-width="1.6" stroke-linejoin="round" stroke-linecap="butt" />
<text x="1158.1" y="500.5" font-size="23" text-anchor="middle" fill="#000" >9646</text>
<text x="1114.3" y="552.0" font-size="23" text-anchor="middle" fill="#000" >9632</text>
<text x="1201.7" y="561.5" font-size="23" text-anchor="middle" fill="#000" >9663</text>
<text x="1236.5" y="591.0" font-size="23" text-anchor="middle" fill="#000" >9679</text>
</g>
<g id="panelF">
<rect x="1440.9" y="466.6" width="517.4" height="336.8" fill="none" stroke="#1c1c1c" stroke-width="1.8"/>
<line x1="1435.1" y1="803.4" x2="1440.9" y2="803.4" stroke="#1c1c1c" stroke-width="1.3"/>
<text x="1424.1" y="810.4" font-size="19.5" text-anchor="end" fill="#000" >0</text>
<line x1="1435.1" y1="769.7" x2="1440.9" y2="769.7" stroke="#1c1c1c" stroke-width="1.3"/>
<text x="1424.1" y="776.5" font-size="19.5" text-anchor="end" fill="#000" >10</text>
<line x1="1435.1" y1="736.0" x2="1440.9" y2="736.0" stroke="#1c1c1c" stroke-width="1.3"/>
<text x="1424.1" y="742.7" font-size="19.5" text-anchor="end" fill="#000" >20</text>
<line x1="1435.1" y1="702.4" x2="1440.9" y2="702.4" stroke="#1c1c1c" stroke-width="1.3"/>
<text x="1424.1" y="708.8" font-size="19.5" text-anchor="end" fill="#000" >30</text>
<line x1="1435.1" y1="668.7" x2="1440.9" y2="668.7" stroke="#1c1c1c" stroke-width="1.3"/>
<text x="1424.1" y="674.9" font-size="19.5" text-anchor="end" fill="#000" >40</text>
<line x1="1435.1" y1="635.0" x2="1440.9" y2="635.0" stroke="#1c1c1c" stroke-width="1.3"/>
<text x="1424.1" y="641.0" font-size="19.5" text-anchor="end" fill="#000" >50</text>
<line x1="1435.1" y1="601.3" x2="1440.9" y2="601.3" stroke="#1c1c1c" stroke-width="1.3"/>
<text x="1424.1" y="607.2" font-size="19.5" text-anchor="end" fill="#000" >60</text>
<line x1="1435.1" y1="567.6" x2="1440.9" y2="567.6" stroke="#1c1c1c" stroke-width="1.3"/>
<text x="1424.1" y="573.3" font-size="19.5" text-anchor="end" fill="#000" >70</text>
<line x1="1435.1" y1="534.0" x2="1440.9" y2="534.0" stroke="#1c1c1c" stroke-width="1.3"/>
<text x="1424.1" y="539.4" font-size="19.5" text-anchor="end" fill="#000" >80</text>
<line x1="1435.1" y1="500.3" x2="1440.9" y2="500.3" stroke="#1c1c1c" stroke-width="1.3"/>
<text x="1424.1" y="505.6" font-size="19.5" text-anchor="end" fill="#000" >90</text>
<line x1="1435.1" y1="466.6" x2="1440.9" y2="466.6" stroke="#1c1c1c" stroke-width="1.3"/>
<text x="1424.1" y="471.7" font-size="19.5" text-anchor="end" fill="#000" >100</text>
<line x1="1440.9" y1="803.4" x2="1440.9" y2="809.7" stroke="#1c1c1c" stroke-width="1.3"/>
<text x="1440.9" y="832.7" font-size="19.5" text-anchor="middle" fill="#000" >6000</text>
<line x1="1514.8" y1="803.4" x2="1514.8" y2="809.7" stroke="#1c1c1c" stroke-width="1.3"/>
<text x="1514.8" y="832.7" font-size="19.5" text-anchor="middle" fill="#000" >7000</text>
<line x1="1588.7" y1="803.4" x2="1588.7" y2="809.7" stroke="#1c1c1c" stroke-width="1.3"/>
<text x="1588.7" y="832.7" font-size="19.5" text-anchor="middle" fill="#000" >8000</text>
<line x1="1662.6" y1="803.4" x2="1662.6" y2="809.7" stroke="#1c1c1c" stroke-width="1.3"/>
<text x="1662.6" y="832.7" font-size="19.5" text-anchor="middle" fill="#000" >9000</text>
<line x1="1736.6" y1="803.4" x2="1736.6" y2="809.7" stroke="#1c1c1c" stroke-width="1.3"/>
<text x="1736.6" y="832.7" font-size="19.5" text-anchor="middle" fill="#000" >10000</text>
<line x1="1810.5" y1="803.4" x2="1810.5" y2="809.7" stroke="#1c1c1c" stroke-width="1.3"/>
<text x="1810.5" y="832.7" font-size="19.5" text-anchor="middle" fill="#000" >11000</text>
<line x1="1884.4" y1="803.4" x2="1884.4" y2="809.7" stroke="#1c1c1c" stroke-width="1.3"/>
<text x="1884.4" y="832.7" font-size="19.5" text-anchor="middle" fill="#000" >12000</text>
<line x1="1958.3" y1="803.4" x2="1958.3" y2="809.7" stroke="#1c1c1c" stroke-width="1.3"/>
<text x="1958.3" y="832.7" font-size="19.5" text-anchor="middle" fill="#000" >13000</text>
<text x="1699.6" y="861.4" font-size="19.5" text-anchor="middle" fill="#000" >Mass (m/z)</text>
<text transform="translate(1380.7,635.8) rotate(-90)" font-size="19.5" text-anchor="middle">% Intensity</text>
<path d="M1443.6,749.2 L1445.5,745.5 L1449.2,743.2 L1451.7,747.3 L1453.6,750.2 L1455.8,747.7 L1459.6,748.9 L1465.2,747.0 L1468.1,748.9 L1470.9,746.4 L1474.7,749.2 L1477.5,747.0 L1481.3,745.5 L1484.1,746.4 L1486.9,743.2 L1489.7,742.6 L1492.6,738.9 L1495.4,733.2 L1498.2,727.6 L1500.7,722.9 L1502.0,716.3 L1503.3,713.4 L1505.2,709.7 L1506.7,696.5 L1507.8,677.7 L1508.6,649.4 L1508.8,635.4 L1509.7,581.6 L1510.2,523.3 L1510.8,512.1 L1511.0,510.9 L1511.2,512.1 L1511.9,523.3 L1512.6,581.6 L1513.5,635.4 L1512.9,649.4 L1513.3,658.8 L1514.2,683.3 L1515.5,697.4 L1516.8,694.6 L1518.0,677.7 L1518.9,655.1 L1519.5,640.0 L1520.1,637.2 L1520.6,640.0 L1521.7,662.6 L1522.7,681.4 L1524.0,694.6 L1525.9,698.4 L1527.4,709.7 L1529.3,722.9 L1530.2,724.7 L1531.5,717.2 L1532.7,716.3 L1533.8,722.9 L1534.9,736.0 L1536.4,742.6 L1538.7,748.9 L1542.5,749.2 L1545.3,752.1 L1548.1,755.3 L1550.9,757.7 L1554.7,756.4 L1557.5,757.7 L1560.4,756.4 L1563.2,759.0 L1566.9,760.9 L1569.8,759.0 L1573.5,760.5 L1577.3,760.5 L1581.1,760.2 L1583.9,761.5 L1587.7,763.9 L1591.4,764.3 L1596.1,763.9 L1600.8,765.2 L1604.6,764.7 L1608.4,763.4 L1612.1,763.9 L1615.9,763.4 L1620.6,762.4 L1624.4,763.4 L1628.1,765.8 L1632.9,764.7 L1637.6,765.8 L1642.3,765.2 L1646.0,766.6 L1649.8,764.7 L1653.6,766.2 L1658.3,765.2 L1662.0,764.3 L1665.8,766.6 L1669.6,766.6 L1673.3,764.3 L1676.2,762.4 L1679.0,760.5 L1680.9,751.1 L1681.8,742.6 L1683.3,740.8 L1684.8,745.5 L1686.5,753.0 L1688.4,751.1 L1690.3,745.5 L1691.6,749.2 L1693.5,751.5 L1695.4,745.5 L1696.9,730.4 L1698.0,705.9 L1698.8,677.7 L1699.5,649.4 L1700.1,640.0 L1699.8,635.4 L1700.5,628.2 L1701.4,635.4 L1702.2,658.8 L1703.5,676.7 L1704.6,658.8 L1705.4,640.0 L1705.7,635.4 L1706.3,581.6 L1707.0,500.9 L1707.6,485.2 L1707.9,469.0 L1708.2,485.2 L1708.8,500.9 L1709.7,581.6 L1710.6,635.4 L1710.5,649.4 L1711.1,677.7 L1712.2,715.3 L1713.5,737.9 L1715.4,751.1 L1718.2,752.6 L1721.1,753.9 L1723.5,759.0 L1726.7,762.0 L1730.5,765.2 L1735.2,766.6 L1739.9,767.1 L1743.7,769.0 L1748.4,768.4 L1754.0,769.9 L1759.7,770.3 L1765.3,769.9 L1772.9,769.9 L1780.4,770.3 L1787.9,770.3 L1795.5,770.3 L1799.2,769.0 L1803.0,768.4 L1806.8,770.3 L1812.4,770.9 L1818.1,770.3 L1821.8,769.0 L1824.7,768.1 L1828.4,769.9 L1832.2,770.9 L1836.0,772.8 L1839.7,770.3 L1843.5,769.9 L1848.2,769.0 L1851.0,768.4 L1853.8,770.3 L1857.6,768.4 L1861.4,766.2 L1863.6,762.4 L1865.1,761.5 L1867.0,763.9 L1869.8,763.4 L1872.3,761.5 L1874.6,764.3 L1877.4,767.1 L1881.1,769.0 L1884.0,770.3 L1886.8,768.4 L1888.7,769.6 L1891.5,766.6 L1893.8,762.4 L1895.6,754.9 L1897.2,750.2 L1898.3,748.9 L1900.0,753.0 L1901.9,758.6 L1904.7,764.3 L1907.5,766.6 L1910.3,766.2 L1913.2,765.2 L1916.0,768.1 L1919.8,770.9 L1923.5,769.6 L1926.3,771.8 L1929.2,772.8 L1932.0,770.9 L1934.8,772.2 L1942.4,772.2 L1949.9,771.8 L1958.4,772.4" fill="none" stroke="#000" stroke-width="1.6" stroke-linejoin="round" stroke-linecap="butt" id="cF"/>
<use href="#cF" transform="translate(0,-0.50)"/>
<use href="#cF" transform="translate(0,0.50)"/>
<text x="1513.8" y="507.0" font-size="23" text-anchor="middle" fill="#000" >6925</text>
<text x="1542.3" y="634.8" font-size="23" text-anchor="middle" fill="#000" >7059</text>
<text x="1675.6" y="624.7" font-size="23" text-anchor="middle" fill="#000" >9488</text>
<text x="1738.0" y="488.0" font-size="23" text-anchor="middle" fill="#000" >9593</text>
<text x="1897.8" y="746.9" font-size="23" text-anchor="middle" fill="#000" >12160</text>
<text class="L" transform="translate(1346.1,497.0) scale(0.965,1)" font-size="60.8">F</text>
</g>
</g>
</svg>
</body></html>
